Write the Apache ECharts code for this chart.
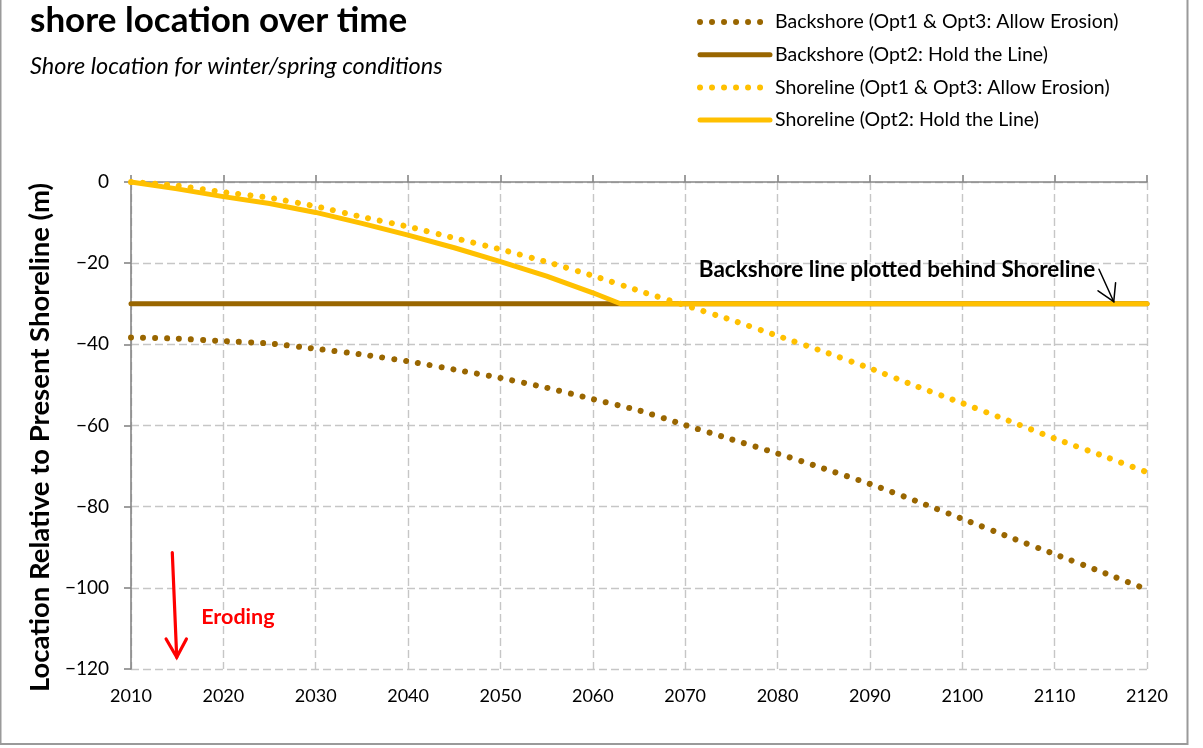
<!DOCTYPE html>
<html>
<head>
<meta charset="utf-8">
<script src="https://cdn.jsdelivr.net/npm/echarts@6/dist/echarts.min.js"></script>
<style>
  html, body { margin: 0; padding: 0; background: #ffffff; }
  #chart { width: 1203px; height: 748px; }
</style>
</head>
<body>
<div id="chart"></div>
<script>
// Years sampled for the projected curves
const years = [2010, 2015, 2020, 2025, 2030, 2035, 2040, 2045, 2050, 2055, 2060, 2065,
               2070, 2075, 2080, 2085, 2090, 2095, 2100, 2105, 2110, 2115, 2120];

// Backshore, Opt1 & Opt3 (allow erosion), metres
const backshoreErosion = [-38.3, -38.6, -39.2, -39.8, -41.1, -42.5, -44.2, -46.2, -48.3, -50.7, -53.5, -56.3,
                          -59.9, -63.4, -66.9, -70.6, -74.4, -78.6, -83.0, -87.4, -91.7, -96.0, -100.4];

// Shoreline, Opt1 & Opt3 (allow erosion), metres
const shorelineErosion = [0, -0.9, -2.5, -3.9, -6.0, -8.6, -11.0, -13.8, -16.6, -19.7, -23.1, -26.8,
                          -30.4, -34.0, -37.9, -41.8, -45.9, -50.3, -54.5, -58.8, -63.2, -67.3, -71.5];

// Backshore, Opt2 (hold the line): fixed position
const holdYears = [2010, 2120];
const backshoreHold = [-30, -30];

// Shoreline, Opt2 (hold the line): erodes until it meets the backshore line
const shoreHoldYears = [2010, 2015, 2020, 2025, 2030, 2035, 2040, 2045, 2050, 2055, 2060, 2063, 2120];
const shorelineHold = [0, -1.7, -3.6, -5.3, -7.5, -10.2, -13.1, -16.2, -19.6, -23.2, -27.3, -30, -30];

// Axis ticks
const xTicks = { min: 2010, max: 2120, step: 10 };
const yTicks = { min: -120, max: 0, step: 20 };

const seriesNames = [
  'Backshore (Opt1 & Opt3: Allow Erosion)',
  'Backshore (Opt2: Hold the Line)',
  'Shoreline (Opt1 & Opt3: Allow Erosion)',
  'Shoreline (Opt2: Hold the Line)'
];

const BROWN = '#996600';
const GOLD = '#FFC000';
const FONT = 'Lato';

const pairs = (xs, ys) => xs.map((x, i) => [x, ys[i]]);

const dotted = (color) => ({ color: color, width: 6, type: [0.01, 12], cap: 'round' });
const solid = (color) => ({ color: color, width: 5, type: 'solid', cap: 'round' });

const gridDash = { color: '#c6c6c6', width: 1.4, type: [8, 4] };

const chart = echarts.init(document.getElementById('chart'), null, { renderer: 'canvas' });

const option = {
  backgroundColor: '#ffffff',
  animation: false,
  title: [
    {
      text: 'shore location over time',
      left: 25, top: -2,
      textStyle: { fontFamily: FONT, fontWeight: 'bold', fontSize: 35, color: '#000000' }
    },
    {
      text: 'Shore location for winter/spring conditions',
      left: 25, top: 50,
      textStyle: { fontFamily: FONT, fontStyle: 'italic', fontWeight: 'normal', fontSize: 23.5, color: '#000000' }
    }
  ],
  legend: {
    orient: 'vertical',
    left: 697, top: 12, padding: 0,
    itemWidth: 70, itemHeight: 14, itemGap: 12.7,
    data: seriesNames,
    textStyle: { fontFamily: FONT, fontSize: 19.5, lineHeight: 20, color: '#000000' },
    lineStyle: { width: 'inherit', cap: 'round' },
    itemStyle: { color: 'transparent', borderWidth: 0, opacity: 0 },
    selectedMode: false
  },
  grid: { left: 131, right: 56, top: 182, bottom: 79, containLabel: false },
  xAxis: [
    {
      type: 'value', position: 'bottom',
      min: xTicks.min, max: xTicks.max, interval: xTicks.step,
      axisLine: { show: false }, axisTick: { show: false },
      axisLabel: { fontFamily: FONT, fontSize: 18, color: '#000000', margin: 18,
                   formatter: (v) => String(v) },
      splitLine: { show: true, lineStyle: gridDash }
    },
    {
      type: 'value', position: 'top',
      min: xTicks.min, max: xTicks.max, interval: xTicks.step,
      axisLine: { show: true, onZero: false, lineStyle: { color: '#868686', width: 1.6 } },
      axisTick: { show: true, inside: false, length: 7, lineStyle: { color: '#868686', width: 1.6 } },
      axisLabel: { show: false },
      splitLine: { show: false }
    }
  ],
  yAxis: {
    type: 'value',
    min: yTicks.min, max: yTicks.max, interval: yTicks.step,
    name: 'Location Relative to Present Shoreline (m)',
    nameLocation: 'middle', nameGap: 70, nameRotate: 90,
    nameTextStyle: { fontFamily: FONT, fontWeight: 'bold', fontSize: 27.5, color: '#000000',
                     padding: [0, 24, 0, 0] },
    axisLine: { show: true, onZero: false, lineStyle: { color: '#868686', width: 1.6 } },
    axisTick: { show: true, inside: false, length: 7, lineStyle: { color: '#868686', width: 1.6 } },
    axisLabel: { fontFamily: FONT, fontSize: 19, color: '#000000', margin: 22,
                 formatter: (v) => String(v).replace('-', '\u2212') },
    splitLine: { show: true, lineStyle: gridDash }
  },
  series: [
    {
      name: seriesNames[0], type: 'line', symbol: 'none', z: 2,
      data: pairs(years, backshoreErosion), smooth: 0.2,
      lineStyle: dotted(BROWN), itemStyle: { color: BROWN }
    },
    {
      name: seriesNames[1], type: 'line', symbol: 'none', z: 2,
      data: pairs(holdYears, backshoreHold),
      lineStyle: solid(BROWN), itemStyle: { color: BROWN }
    },
    {
      name: seriesNames[2], type: 'line', symbol: 'none', z: 4,
      data: pairs(years, shorelineErosion), smooth: 0.2,
      lineStyle: dotted(GOLD), itemStyle: { color: GOLD }
    },
    {
      name: seriesNames[3], type: 'line', symbol: 'none', z: 3,
      data: pairs(shoreHoldYears, shorelineHold),
      lineStyle: solid(GOLD), itemStyle: { color: GOLD }
    }
  ]
};

chart.setOption(option);

// Callouts, anchored in data coordinates
const P = (x, y) => chart.convertToPixel({ seriesIndex: 0 }, [x, y]);
const callout = {
  note: { text: 'Backshore line plotted behind Shoreline', at: [2114.4, -21.7] },
  noteArrow: { from: [2114.8, -21.5], to: [2116.4, -29.5], wingA: [2114.7, -26.8], wingB: [2116.6, -24.8] },
  erode: { text: 'Eroding', at: [2017.6, -107.2] },
  erodeArrow: { from: [2014.47, -91.3], to: [2014.95, -117.1], wingA: [2013.8, -112.6], wingB: [2016.0, -112.6] }
};

function arrow(a, color, width) {
  const t = P(...a.to);
  return [
    { type: 'line', shape: { x1: P(...a.from)[0], y1: P(...a.from)[1], x2: t[0], y2: t[1] },
      style: { stroke: color, lineWidth: width, lineCap: 'round' }, z: 10 },
    { type: 'polyline', shape: { points: [P(...a.wingA), t, P(...a.wingB)] },
      style: { stroke: color, lineWidth: width, lineCap: 'round', lineJoin: 'miter', fill: null }, z: 10 }
  ];
}

const notePos = P(...callout.note.at);
const erodePos = P(...callout.erode.at);

chart.setOption({
  graphic: [
    { type: 'rect', shape: { x: 0.5, y: -5, width: 1187, height: 749 },
      style: { fill: null, stroke: '#9a9a9a', lineWidth: 2 }, z: 0, silent: true },
    { type: 'text', x: notePos[0], y: notePos[1], z: 10,
      style: { text: callout.note.text, align: 'right', verticalAlign: 'middle',
               font: 'bold 22.5px ' + FONT, fill: '#000000' } },
    ...arrow(callout.noteArrow, '#000000', 1.5),
    { type: 'text', x: erodePos[0], y: erodePos[1], z: 10,
      style: { text: callout.erode.text, align: 'left', verticalAlign: 'middle',
               font: 'bold 21.5px ' + FONT, fill: '#ff0000' } },
    ...arrow(callout.erodeArrow, '#ff0000', 3.2)
  ]
});
</script>
</body>
</html>
